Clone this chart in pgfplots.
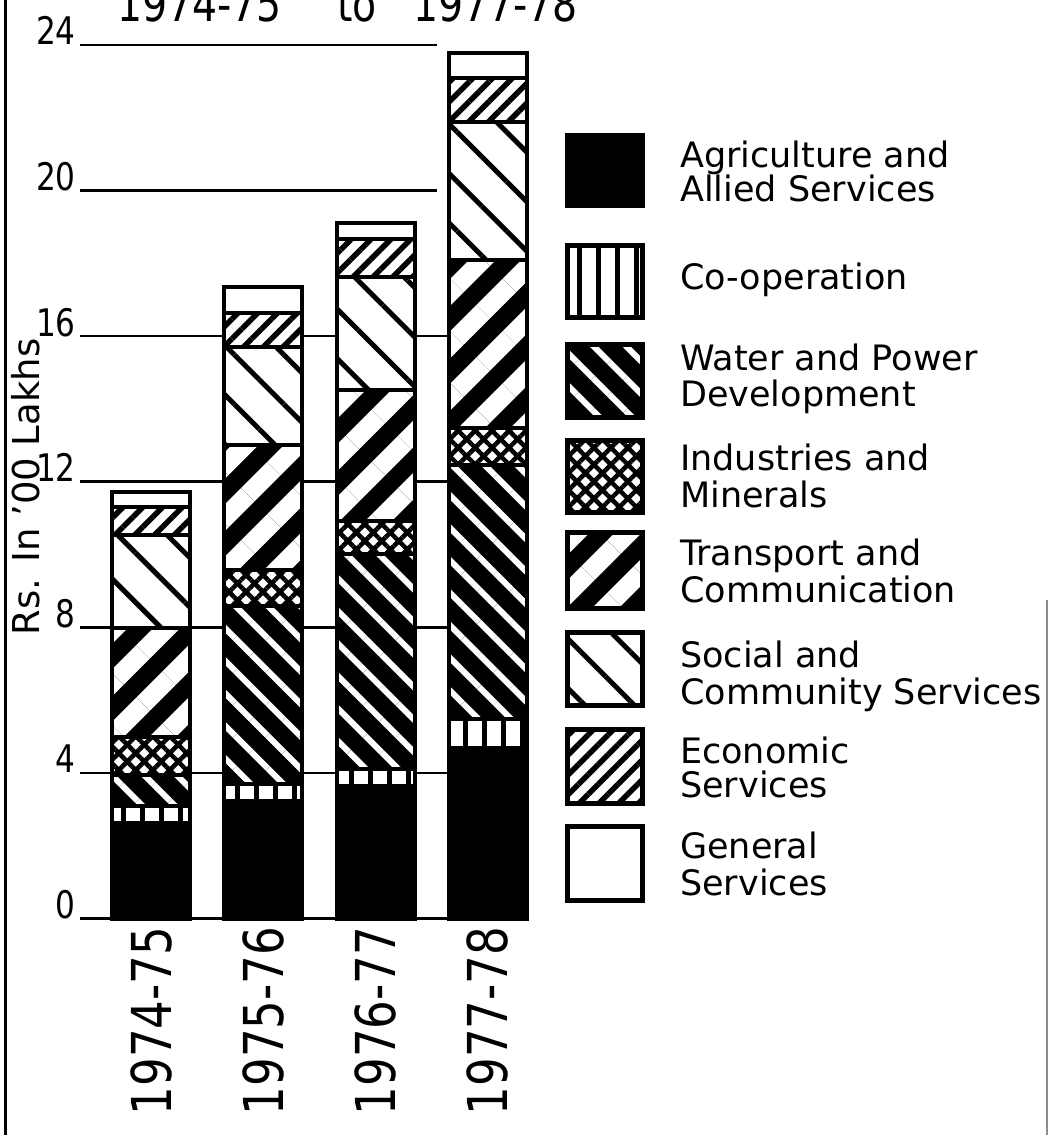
\documentclass[border=0pt]{standalone}
\usepackage{fontspec}
\setmainfont{DejaVu Sans}
\newfontfamily\numfont[FakeStretch=0.82]{DejaVu Sans}
\usepackage{pgfplots}
\pgfplotsset{compat=1.18}
\usetikzlibrary{patterns.meta}

% striped pattern: name, angle, distance, band width, background, band colour
% (band in the middle of the tile, content overlapping 1pt to hide tile seams)
\newcommand\mkpat[6]{%
  \tikzdeclarepattern{name=#1, type=colored,
    bottom left={(-1pt,-1pt)}, top right={(#3+1pt,#3+1pt)}, tile size={(#3,#3)},
    tile transformation={rotate=#2},
    code={\fill[#5] (-1pt,-1pt) rectangle (#3+1pt,#3+1pt);
          \fill[#6] (-1pt,{(#3-#4)/2}) rectangle (#3+1pt,{(#3+#4)/2});}}}
\mkpat{coopP}{90}{19pt}{5pt}{white}{black}
\mkpat{waterP}{-45}{23pt}{6pt}{black}{white}
\mkpat{transP}{45}{37pt}{19pt}{black}{white}
\mkpat{socialP}{-45}{35pt}{5pt}{white}{black}
\mkpat{econP}{45}{14pt}{5.5pt}{white}{black}
\tikzdeclarepattern{name=indP, type=colored,
  bottom left={(-1pt,-1pt)}, top right={(13pt,13pt)}, tile size={(12pt,12pt)},
  tile transformation={rotate=45},
  code={\fill[white] (-1pt,-1pt) rectangle (13pt,13pt);
        \fill[black] (-1pt,3.75pt) rectangle (13pt,8.25pt);
        \fill[black] (3.75pt,-1pt) rectangle (8.25pt,13pt);}}

\tikzset{
  seg/.style={draw=black, line width=4pt},
  agri/.style={seg, fill=black},
  coop/.style={seg, pattern=coopP},
  water/.style={seg, pattern=waterP},
  ind/.style={seg, pattern=indP},
  trans/.style={seg, pattern=transP},
  social/.style={seg, pattern=socialP},
  econ/.style={seg, pattern=econP},
  gen/.style={seg, fill=white},
  gridline/.style={black, line width=2.7pt},
  legtext/.style={anchor=base west, inner sep=0pt, font=\fontsize{35}{35}\selectfont},
}

\begin{document}
\begin{tikzpicture}
\useasboundingbox (0,0) rectangle (1049pt,-1135pt);
% page border lines
\draw[black, line width=3pt] (5pt,0pt) -- (5pt,-1135pt);
\draw[black!45, line width=2pt] (1047pt,-600pt) -- (1047pt,-1135pt);
% horizontal guide lines (drawn first, so they lie behind the bars)
\draw[gridline] (80pt,-918.5pt) -- (528pt,-918.5pt);
\draw[gridline] (80pt,-772.9pt) -- (448pt,-772.9pt);
\draw[gridline] (80pt,-627.3pt) -- (448pt,-627.3pt);
\draw[gridline] (80pt,-481.7pt) -- (448pt,-481.7pt);
\draw[gridline] (80pt,-336.1pt) -- (448pt,-336.1pt);
\draw[gridline] (80pt,-190.5pt) -- (437pt,-190.5pt);
\draw[gridline] (80pt,-44.9pt) -- (437pt,-44.9pt);
% title (cut at top as in the original)
\node[anchor=base west, inner sep=0pt, font=\numfont\fontsize{48}{48}\selectfont] at (117pt,-21pt) {1974-75};
\node[anchor=base west, inner sep=0pt, font=\numfont\fontsize{48}{48}\selectfont] at (337pt,-21pt) {to};
\node[anchor=base west, inner sep=0pt, font=\numfont\fontsize{48}{48}\selectfont] at (413pt,-21pt) {1977-78};
% y label
\node[rotate=90, anchor=base, inner sep=0pt, font=\fontsize{37}{37}\selectfont] at (39pt,-487pt) {Rs. In '00 Lakhs};

\begin{axis}[
  at={(80pt,-918.5pt)}, anchor=south west,
  scale only axis, width=448pt, height=873.6pt,
  xmin=-0.6322, xmax=3.357, ymin=0, ymax=24,
  ybar stacked, bar width=0.695,
  axis line style={draw=none}, tick style={draw=none}, major tick length=0pt,
  ytick={0,4,8,12,16,20,24},
  xtick={0,1,2,3}, xticklabels={1974-75,1975-76,1976-77,1977-78},
  /pgf/number format/assume math mode=true,
  yticklabel style={font=\numfont\fontsize{38}{38}\selectfont, anchor=base east, inner sep=0pt},
  yticklabel shift=4pt,
  xticklabel style={font=\numfont\fontsize{55}{55}\selectfont, rotate=90, anchor=east, inner sep=0pt},
  xticklabel shift=8pt,
  clip=false,
]
\addplot[agri]   coordinates {(0,2.62) (1,3.23) (2,3.64) (3,4.68)};
\addplot[coop]   coordinates {(0,0.47) (1,0.47) (2,0.47) (3,0.80)};
\addplot[water]  coordinates {(0,0.85) (1,4.89) (2,5.90) (3,6.98)};
\addplot[ind]    coordinates {(0,1.05) (1,0.98) (2,0.91) (3,1.02)};
\addplot[trans]  coordinates {(0,2.99) (1,3.44) (2,3.60) (3,4.61)};
\addplot[social] coordinates {(0,2.56) (1,2.69) (2,3.10) (3,3.79)};
\addplot[econ]   coordinates {(0,0.76) (1,0.94) (2,1.05) (3,1.21)};
\addplot[gen]    coordinates {(0,0.42) (1,0.71) (2,0.44) (3,0.70)};
\end{axis}

% legend
\draw[agri, line width=5pt]   (567pt,-135pt) rectangle (642pt,-205pt);
\draw[coop, line width=5pt]   (567pt,-245pt) rectangle (642pt,-317pt);
\draw[water, line width=5pt]  (567pt,-344pt) rectangle (642pt,-417pt);
\draw[ind, line width=5pt]    (567pt,-440pt) rectangle (642pt,-512pt);
\draw[trans, line width=5pt]  (567pt,-532pt) rectangle (642pt,-608pt);
\draw[social, line width=5pt] (567pt,-632pt) rectangle (642pt,-705pt);
\draw[econ, line width=5pt]   (567pt,-729pt) rectangle (642pt,-803pt);
\draw[gen, line width=5pt]    (567pt,-826pt) rectangle (642pt,-900pt);
\node[legtext] at (680pt,-167pt) {Agriculture and};
\node[legtext] at (680pt,-201pt) {Allied Services};
\node[legtext] at (680pt,-289pt) {Co-operation};
\node[legtext] at (680pt,-370pt) {Water and Power};
\node[legtext] at (680pt,-406pt) {Development};
\node[legtext] at (680pt,-470pt) {Industries and};
\node[legtext] at (680pt,-507pt) {Minerals};
\node[legtext] at (680pt,-565pt) {Transport and};
\node[legtext] at (680pt,-602pt) {Communication};
\node[legtext] at (680pt,-667pt) {Social and};
\node[legtext] at (680pt,-704pt) {Community Services};
\node[legtext] at (680pt,-763pt) {Economic};
\node[legtext] at (680pt,-797pt) {Services};
\node[legtext] at (680pt,-858pt) {General};
\node[legtext] at (680pt,-895pt) {Services};
\end{tikzpicture}
\end{document}
